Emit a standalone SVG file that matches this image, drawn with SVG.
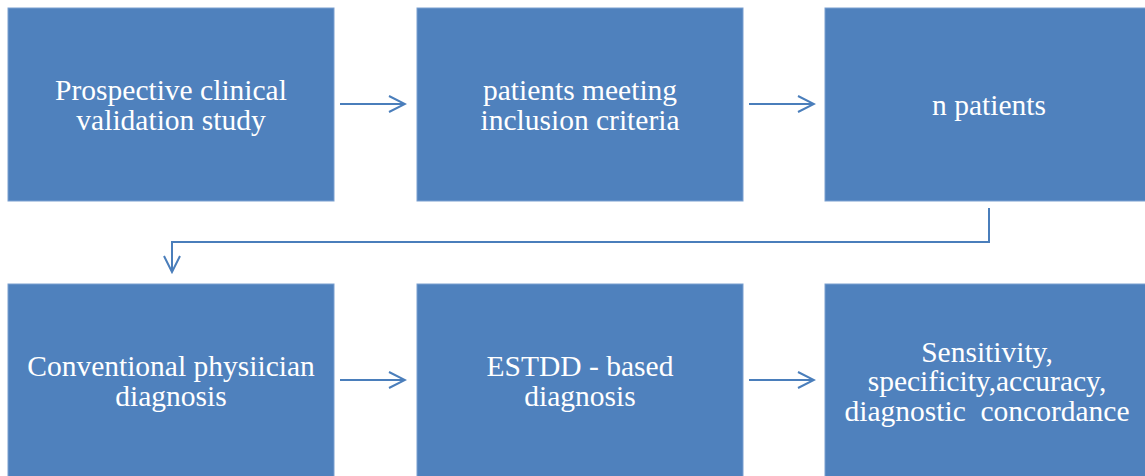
<svg xmlns="http://www.w3.org/2000/svg" width="1145" height="476" viewBox="0 0 1145 476">
<style>
.box{fill:#4F81BD;stroke:#7A9FD0;stroke-width:1}
.t{font-family:"Liberation Serif","Times New Roman",serif;font-size:29.5px;fill:#FFFFFF;text-anchor:middle;white-space:pre}
.c{fill:none;stroke:#4A7EBB;stroke-width:2}
</style>
<defs>
<marker id="ah" viewBox="0 0 20 20" refX="18" refY="10" markerWidth="20" markerHeight="20" markerUnits="userSpaceOnUse" orient="auto">
<path d="M2,2 L18,10 L2,18" fill="none" stroke="#4A7EBB" stroke-width="2"/>
</marker>
</defs>
<g id="n1"><rect class="box" x="8" y="8" width="326" height="193"/>
<text class="t" x="171" y="100">Prospective clinical</text><text class="t" x="171" y="130">validation study</text></g>
<g id="n2"><rect class="box" x="417" y="8" width="326" height="193"/>
<text class="t" x="580" y="100">patients meeting</text><text class="t" x="580" y="130">inclusion criteria</text></g>
<g id="n3"><rect class="box" x="825" y="8" width="321" height="193"/>
<text class="t" x="989" y="115">n patients</text></g>
<g id="n4"><rect class="box" x="8" y="284" width="326" height="193"/>
<text class="t" x="171" y="376">Conventional physiician</text><text class="t" x="171" y="406">diagnosis</text></g>
<g id="n5"><rect class="box" x="417" y="284" width="326" height="193"/>
<text class="t" x="580" y="376">ESTDD - based</text><text class="t" x="580" y="406">diagnosis</text></g>
<g id="n6"><rect class="box" x="825" y="284" width="321" height="193"/>
<text class="t" x="987" y="362">Sensitivity,</text><text class="t" x="987" y="391">specificity,accuracy,</text><text class="t" x="987" y="421" xml:space="preserve">diagnostic  concordance</text></g>
<g id="connectors">
<path class="c" d="M340,104 H405" marker-end="url(#ah)"/>
<path class="c" d="M749,104 H814" marker-end="url(#ah)"/>
<path class="c" d="M989,208 V242 H172 V272" marker-end="url(#ah)"/>
<path class="c" d="M340,380 H405" marker-end="url(#ah)"/>
<path class="c" d="M749,380 H814" marker-end="url(#ah)"/>
</g>
</svg>
